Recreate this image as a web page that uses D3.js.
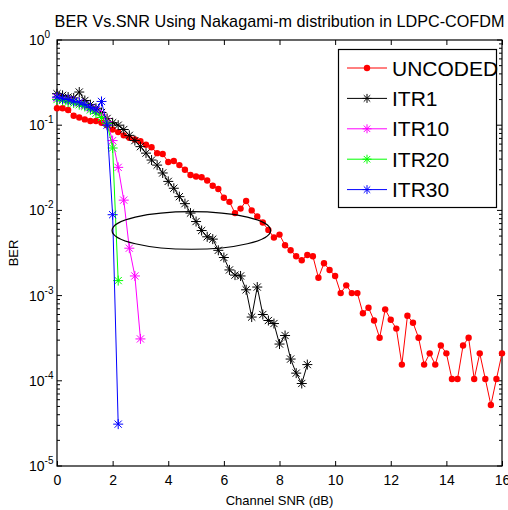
<!DOCTYPE html>
<html>
<head>
<meta charset="utf-8">
<script src="https://cdnjs.cloudflare.com/ajax/libs/d3/7.8.5/d3.min.js"></script>
<style>
body { margin: 0; background: #fff; }
svg { display: block; font-family: "Liberation Sans", Arial, sans-serif; }
</style>
</head>
<body>
<div id="chart"></div>
<script>
// channel SNR in dB (0.2 dB steps)
var snr = [0,0.2,0.4,0.6,0.8,1,1.2,1.4,1.6,1.8,2,2.2,2.4,2.6,2.8,3,3.2,3.4,3.6,3.8,
	4,4.2,4.4,4.6,4.8,5,5.2,5.4,5.6,5.8,6,6.2,6.4,6.6,6.8,7,7.2,7.4,7.6,7.8,
	8,8.2,8.4,8.6,8.8,9,9.2,9.4,9.6,9.8,10,10.2,10.4,10.6,10.8,11,11.2,11.4,11.6,11.8,
	12,12.2,12.4,12.6,12.8,13,13.2,13.4,13.6,13.8,14,14.2,14.4,14.6,14.8,15,15.2,15.4,15.6,15.8,16];

var berUncoded = [0.158,0.158,0.151,0.129,0.123,0.117,0.112,0.112,0.107,0.100,
	0.089,0.083,0.076,0.071,0.068,0.065,0.059,0.055,0.047,0.046,
	0.037,0.038,0.034,0.030,0.026,0.025,0.0245,0.0224,0.0195,0.0178,
	0.0141,0.0126,0.0093,0.0105,0.0129,0.0100,0.0085,0.0072,0.0059,0.0048,
	0.0052,0.0039,0.0034,0.0029,0.0026,0.0030,0.0029,0.00162,0.0024,0.0020,
	0.0017,0.00107,0.00132,0.00107,0.00107,6.2e-4,7.2e-4,5.1e-4,3.2e-4,6.9e-4,
	5.2e-4,4.1e-4,1.55e-4,5.8e-4,4.8e-4,3.2e-4,1.55e-4,2.1e-4,1.55e-4,2.6e-4,
	2.1e-4,1.05e-4,1.05e-4,2.6e-4,3.2e-4,1.05e-4,2.1e-4,1.05e-4,5.2e-5,1.05e-4,
	2.1e-4];

var berItr1 = [0.234,0.224,0.214,0.209,0.245,0.195,0.174,0.158,0.141,0.120,
	0.107,0.100,0.089,0.076,0.066,0.056,0.047,0.039,0.034,0.0275,
	0.0219,0.0182,0.0145,0.0120,0.0093,0.0074,0.0058,0.0049,0.0046,0.0034,
	0.0028,0.0020,0.00174,0.0017,0.00117,5.6e-4,0.00126,6.0e-4,5.1e-4,4.7e-4,
	2.7e-4,3.4e-4,1.8e-4,1.23e-4,9.3e-5,1.55e-4];

var berItr10 = [0.209,0.200,0.195,0.191,0.182,0.170,0.158,0.148,0.132,0.110,
	0.066,0.032,0.0132,0.0036,0.0017,3.1e-4];

var berItr20 = [0.200,0.195,0.186,0.182,0.174,0.166,0.151,0.138,0.123,0.105,
	0.054,0.0015];

var berItr30 = [0.214,0.204,0.200,0.191,0.186,0.174,0.162,0.151,0.190,0.100,
	0.0089,3.1e-5];

var seriesNames = ["UNCODED", "ITR1", "ITR10", "ITR20", "ITR30"];
var seriesColors = ["#ff0000", "#000000", "#ff00ff", "#00ff00", "#0000ff"];
var seriesValues = [berUncoded, berItr1, berItr10, berItr20, berItr30];

var xTicks = [0, 2, 4, 6, 8, 10, 12, 14, 16];
var yDecades = [1e0, 1e-1, 1e-2, 1e-3, 1e-4, 1e-5];
var yExponents = ["0", "-1", "-2", "-3", "-4", "-5"];

// circled region (annotation)
var ringSnr = [1.98, 7.68];
var ringBer = [0.0097, 0.0035];

var w = 508;
var h = 510;
var plotL = 57, plotR = 502, plotT = 40, plotB = 466;

var svg = d3.select("#chart")
			.append("svg")
			.attr("width", w)
			.attr("height", h);

svg.append("rect")
   .attr("width", w)
   .attr("height", h)
   .attr("fill", "#fff");

var x = d3.scaleLinear().domain([0, 16]).range([plotL, plotR]);
var y = d3.scaleLog().domain([1e-5, 1]).range([plotB, plotT]);

// minor log ticks
var minorTicks = [];
yDecades.slice(1).forEach(function(d) {
	for (var k = 2; k <= 9; k++) minorTicks.push(d * k);
});

// axes box with inward ticks
svg.append("g")
   .attr("transform", "translate(0," + plotB + ")")
   .call(d3.axisBottom(x).tickValues(xTicks).tickSize(-5).tickPadding(9).tickFormat(d3.format("d")))
   .call(function(g) {
	   g.select(".domain").remove();
	   g.selectAll("text").attr("font-size", "14px").attr("fill", "#000").attr("font-family", "inherit");
   });

svg.append("g")
   .attr("transform", "translate(0," + plotT + ")")
   .call(d3.axisTop(x).tickValues(xTicks).tickSize(-5).tickFormat(""))
   .call(function(g) { g.select(".domain").remove(); });

[plotL, plotR].forEach(function(px, side) {
	var dir = side === 0 ? 1 : -1;
	svg.append("g").selectAll("line")
	   .data(minorTicks)
	   .enter()
	   .append("line")
	   .attr("x1", px)
	   .attr("x2", px + dir * 3)
	   .attr("y1", function(d) { return y(d); })
	   .attr("y2", function(d) { return y(d); })
	   .attr("stroke", "#000");
	svg.append("g").selectAll("line")
	   .data(yDecades)
	   .enter()
	   .append("line")
	   .attr("x1", px)
	   .attr("x2", px + dir * 5)
	   .attr("y1", function(d) { return y(d); })
	   .attr("y2", function(d) { return y(d); })
	   .attr("stroke", "#000");
});

svg.append("rect")
   .attr("x", plotL)
   .attr("y", plotT)
   .attr("width", plotR - plotL)
   .attr("height", plotB - plotT)
   .attr("fill", "none")
   .attr("stroke", "#000")
   .attr("stroke-width", 1.2);

// y tick labels 10^n
var yLabels = svg.append("g").selectAll("text")
   .data(yDecades)
   .enter()
   .append("text")
   .attr("x", 29)
   .attr("y", function(d) { return y(d) + 5; })
   .attr("font-size", "14px");
yLabels.append("tspan").text("10");
yLabels.append("tspan")
   .attr("dy", -7)
   .attr("font-size", "10px")
   .text(function(d, i) { return yExponents[i]; });

// title and axis labels
svg.append("text")
   .attr("x", (plotL + plotR) / 2)
   .attr("y", 27)
   .attr("text-anchor", "middle")
   .attr("font-size", "16.2px")
   .text("BER Vs.SNR Using Nakagami-m distribution in LDPC-COFDM");

svg.append("text")
   .attr("x", (plotL + plotR) / 2)
   .attr("y", 505)
   .attr("text-anchor", "middle")
   .attr("font-size", "13px")
   .text("Channel SNR (dB)");

svg.append("text")
   .attr("transform", "translate(18," + ((plotT + plotB) / 2) + ") rotate(-90)")
   .attr("text-anchor", "middle")
   .attr("font-size", "13px")
   .text("BER");

// star marker path
function star(cx, cy, s) {
	var d = s * 0.72;
	return "M" + (cx - s) + "," + cy + "H" + (cx + s) +
		"M" + cx + "," + (cy - s) + "V" + (cy + s) +
		"M" + (cx - d) + "," + (cy - d) + "L" + (cx + d) + "," + (cy + d) +
		"M" + (cx - d) + "," + (cy + d) + "L" + (cx + d) + "," + (cy - d);
}

var line = d3.line()
	.x(function(d) { return x(d[0]); })
	.y(function(d) { return y(d[1]); });

seriesValues.forEach(function(vals, k) {
	var pts = vals.map(function(v, i) { return [snr[i], v]; });
	var g = svg.append("g");
	g.append("path")
	 .attr("d", line(pts))
	 .attr("fill", "none")
	 .attr("stroke", seriesColors[k])
	 .attr("stroke-width", 1);
	if (k === 0) {
		g.selectAll("circle")
		 .data(pts)
		 .enter()
		 .append("circle")
		 .attr("cx", function(d) { return x(d[0]); })
		 .attr("cy", function(d) { return y(d[1]); })
		 .attr("r", 3.2)
		 .attr("fill", seriesColors[k]);
	} else {
		g.selectAll("path.mk")
		 .data(pts)
		 .enter()
		 .append("path")
		 .attr("class", "mk")
		 .attr("d", function(d) { return star(x(d[0]), y(d[1]), 5); })
		 .attr("fill", "none")
		 .attr("stroke", seriesColors[k])
		 .attr("stroke-width", 1);
	}
});

// ellipse annotation
svg.append("ellipse")
   .attr("cx", (x(ringSnr[0]) + x(ringSnr[1])) / 2)
   .attr("cy", (y(ringBer[0]) + y(ringBer[1])) / 2)
   .attr("rx", (x(ringSnr[1]) - x(ringSnr[0])) / 2)
   .attr("ry", (y(ringBer[1]) - y(ringBer[0])) / 2)
   .attr("fill", "none")
   .attr("stroke", "#000")
   .attr("stroke-width", 1.2);

// legend
var legend = svg.append("g");
legend.append("rect")
   .attr("x", 338.5)
   .attr("y", 49.5)
   .attr("width", 158)
   .attr("height", 158)
   .attr("fill", "#fff")
   .attr("stroke", "#000")
   .attr("stroke-width", 1.2);

seriesNames.forEach(function(name, k) {
	var cy = 68 + k * 30.4;
	legend.append("line")
	   .attr("x1", 347)
	   .attr("x2", 387)
	   .attr("y1", cy)
	   .attr("y2", cy)
	   .attr("stroke", seriesColors[k]);
	if (k === 0) {
		legend.append("circle")
		   .attr("cx", 367)
		   .attr("cy", cy)
		   .attr("r", 3.2)
		   .attr("fill", seriesColors[k]);
	} else {
		legend.append("path")
		   .attr("d", star(367, cy, 4.5))
		   .attr("fill", "none")
		   .attr("stroke", seriesColors[k]);
	}
	legend.append("text")
	   .attr("x", 392)
	   .attr("y", cy + 7.5)
	   .attr("font-size", "21px")
	   .text(name);
});
</script>
</body>
</html>
